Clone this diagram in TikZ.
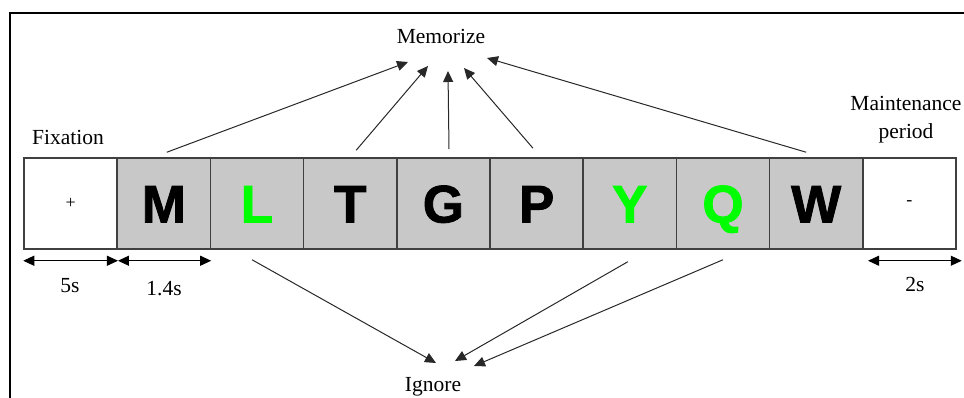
\documentclass[tikz,border=0pt]{standalone}
\usepackage{fontspec}
\setmainfont{Liberation Serif}
\newfontfamily\letterfont[FakeBold=1.6]{Liberation Sans Bold}
\usepackage{tikz}
\usetikzlibrary{arrows.meta}
\definecolor{boxg}{RGB}{200,200,200}
\definecolor{edge}{RGB}{64,64,64}
\definecolor{lg}{RGB}{0,255,0}
\definecolor{ln}{RGB}{40,40,40}

\begin{document}
\begin{tikzpicture}[x=1pt,y=1pt,
  slot/.style={draw=edge,line width=1.5pt,minimum width=93.2pt,minimum height=91pt,inner sep=0pt},
  lab/.style={font=\fontsize{21.5}{28}\selectfont,inner sep=0pt},
  arr/.style={ln,line width=1pt,-{Triangle[length=11pt,width=10pt]}},
  span/.style={black,line width=1pt,{Triangle[length=11pt,width=10pt]}-{Triangle[length=11pt,width=10pt]}}]
  \useasboundingbox (0,0) rectangle (964,398);
  \draw[line width=2pt] (9.5,-2) -- (9.5,384.5) -- (966,384.5);
  % fixation, letters, maintenance
  \node[slot,fill=white] (b0) at (70.6,194.5) {};
  \node[font=\fontsize{18}{18}\selectfont] at (b0.center) {+};
  \foreach \l/\c [count=\i] in {M/black, L/lg, T/black, G/black, P/black, Y/lg, Q/lg, W/black}
    {\node[slot,fill=boxg,text=\c,text height=38pt,text depth=0pt,
       font=\letterfont\fontsize{53}{53}\selectfont] (b\i) at (70.6+93.2*\i,194.5) {\l};}
  \node[slot,fill=white] (b9) at (909.4,194.5) {};
  \node[font=\fontsize{18}{18}\selectfont] at (b9.center) {-};
  % labels
  \node[lab] (fix) at (68,261) {Fixation};
  \node[lab,align=center] (mnt) at (906,278) {Maintenance\\period};
  \node[lab] (mem) at (441,362) {Memorize};
  \node[lab] (ign) at (433,11) {Ignore};
  % memorize
  \draw[arr] ([xshift=3pt,yshift=5pt]b1.north) -- ([xshift=-33pt,yshift=-26pt]mem.center);
  \draw[arr] ([xshift=6pt,yshift=7pt]b3.north) -- ([xshift=-13pt,yshift=-30pt]mem.center);
  \draw[arr] ([xshift=5.6pt,yshift=8pt]b4.north) -- ([xshift=7pt,yshift=-35pt]mem.center);
  \draw[arr] ([xshift=-3.6pt,yshift=9pt]b5.north) -- ([xshift=23pt,yshift=-32pt]mem.center);
  \draw[arr] ([xshift=-10pt,yshift=5pt]b8.north) -- ([xshift=46pt,yshift=-22pt]mem.center);
  % ignore
  \draw[arr] ([xshift=-5pt,yshift=-10pt]b2.south) -- ([xshift=3pt,yshift=24pt]ign.center);
  \draw[arr] ([xshift=-2pt,yshift=-12pt]b6.south) -- ([xshift=22pt,yshift=26pt]ign.center);
  \draw[arr] ([yshift=-10pt]b7.south) -- ([xshift=41pt,yshift=21pt]ign.center);
  % durations
  \draw[span] ([yshift=-11pt]b0.south west) -- ([yshift=-11pt]b0.south east);
  \draw[span] ([xshift=1.5pt,yshift=-11pt]b1.south west) -- ([yshift=-11pt]b1.south east);
  \draw[span] ([xshift=6pt,yshift=-11pt]b9.south west) -- ([xshift=5pt,yshift=-11pt]b9.south east);
  \node[lab] (t0) at (70,112) {5s};
  \node[lab] (t1) at (164,109) {1.4s};
  \node[lab] (t9) at (915,114) {2s};
\end{tikzpicture}
\end{document}
